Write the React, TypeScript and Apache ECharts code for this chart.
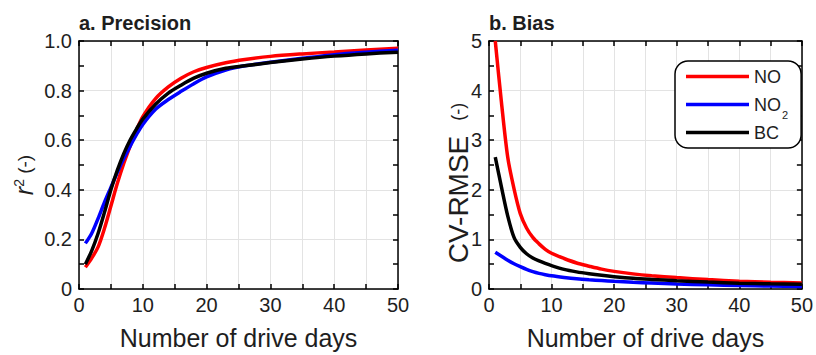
import React, { useEffect, useRef } from "react";
import * as echarts from "echarts";

// Number of drive days (shared by both panels)
const days = [1, 2, 3, 4, 5, 6, 7, 8, 9, 10, 12, 14, 16, 18, 20, 23, 26, 30, 35, 40, 45, 50];

// Panel a: precision (r²)
const r2NO = [0.088, 0.125, 0.17, 0.245, 0.335, 0.425, 0.505, 0.575, 0.64, 0.695, 0.768, 0.815, 0.85, 0.876, 0.893, 0.912, 0.925, 0.938, 0.948, 0.956, 0.964, 0.971];
const r2NO2 = [0.184, 0.225, 0.285, 0.35, 0.41, 0.47, 0.525, 0.575, 0.622, 0.664, 0.725, 0.764, 0.797, 0.828, 0.855, 0.883, 0.9, 0.914, 0.93, 0.945, 0.955, 0.963];
const r2BC = [0.1, 0.155, 0.225, 0.31, 0.4, 0.478, 0.545, 0.6, 0.645, 0.685, 0.745, 0.79, 0.822, 0.85, 0.87, 0.89, 0.9, 0.913, 0.927, 0.939, 0.948, 0.955];

// Panel b: bias (CV-RMSE)
const cvNO = [5.0, 3.75, 2.65, 2.02, 1.52, 1.23, 1.04, 0.91, 0.8, 0.72, 0.615, 0.525, 0.46, 0.4, 0.355, 0.305, 0.268, 0.23, 0.19, 0.157, 0.136, 0.12];
const cvNO2 = [0.74, 0.66, 0.58, 0.51, 0.45, 0.395, 0.35, 0.315, 0.288, 0.265, 0.233, 0.206, 0.186, 0.17, 0.155, 0.136, 0.12, 0.1, 0.085, 0.07, 0.06, 0.05];
const cvBC = [2.66, 2.05, 1.47, 1.04, 0.84, 0.71, 0.625, 0.565, 0.515, 0.47, 0.395, 0.345, 0.307, 0.275, 0.248, 0.215, 0.193, 0.168, 0.14, 0.118, 0.105, 0.097];

const seriesNames = ["NO", "NO2", "BC"];
const seriesColors = ["#ff0000", "#0000ff", "#000000"];
const panelTitles = ["a. Precision", "b. Bias"];
const xName = "Number of drive days";

const FONT = "'Liberation Sans', Arial, Helvetica, sans-serif";
const TEXT = "#1e1e1e";
const GRID_C = "#e3e3e3";

const zip = (xs: number[], ys: number[]) => xs.map((x, i) => [x, ys[i]]);

const tickStyle = { color: "#000", width: 1.5 };

function xAxes(gridIndex: number) {
  const common = {
    gridIndex,
    type: "value" as const,
    min: 0,
    max: 50,
    interval: 10,
    axisLine: { show: true, onZero: false, lineStyle: { color: "#000", width: 1.5 } },
    axisTick: { show: true, inside: true, length: 5, lineStyle: tickStyle },
    minorTick: { show: true, splitNumber: 2, length: 5, lineStyle: tickStyle },
  };
  return [
    {
      ...common,
      position: "bottom",
      splitLine: { show: true, lineStyle: { color: GRID_C, width: 1 } },
      minorSplitLine: { show: true, lineStyle: { color: GRID_C, width: 1 } },
      axisLabel: { show: true, fontSize: 20, color: TEXT, margin: 6, fontFamily: FONT },
      name: xName,
      nameLocation: "middle",
      nameGap: 36,
      nameTextStyle: { fontSize: 25, color: TEXT, fontFamily: FONT },
    },
    {
      ...common,
      position: "top",
      splitLine: { show: false },
      minorSplitLine: { show: false },
      axisLabel: { show: false },
    },
  ];
}

function yAxes(gridIndex: number, max: number, interval: number, fmt: (v: number) => string) {
  const common = {
    gridIndex,
    type: "value" as const,
    min: 0,
    max,
    interval,
    axisLine: { show: true, onZero: false, lineStyle: { color: "#000", width: 1.5 } },
    axisTick: { show: true, inside: true, length: 5, lineStyle: tickStyle },
    minorTick: { show: true, splitNumber: 2, length: 5, lineStyle: tickStyle },
  };
  return [
    {
      ...common,
      position: "left",
      splitLine: { show: true, lineStyle: { color: GRID_C, width: 1 } },
      minorSplitLine: { show: false },
      axisLabel: { show: true, fontSize: 20, color: TEXT, margin: 7, fontFamily: FONT, formatter: fmt },
    },
    {
      ...common,
      position: "right",
      splitLine: { show: false },
      minorSplitLine: { show: false },
      axisLabel: { show: false },
    },
  ];
}

function lineSeries(name: string, color: string, data: number[][], axisIdx: number) {
  return {
    type: "line",
    name,
    data,
    xAxisIndex: axisIdx,
    yAxisIndex: axisIdx,
    showSymbol: false,
    symbol: "none",
    smooth: 0.3,
    lineStyle: { color, width: 3.5 },
    itemStyle: { color },
    clip: true,
  };
}

export default function App() {
  const ref = useRef<HTMLDivElement>(null);
  useEffect(() => {
    if (!ref.current) return;
    const chart = echarts.init(ref.current, null, { renderer: "svg" });
    const leftData = [r2NO, r2NO2, r2BC];
    const rightData = [cvNO, cvNO2, cvBC];
    const option: any = {
      animation: false,
      textStyle: { fontFamily: FONT },
      title: [
        { text: panelTitles[0], left: 79, top: 13, padding: 0, textStyle: { fontSize: 20, fontWeight: "bold", color: TEXT, fontFamily: FONT } },
        { text: panelTitles[1], left: 489, top: 13, padding: 0, textStyle: { fontSize: 20, fontWeight: "bold", color: TEXT, fontFamily: FONT } },
      ],
      grid: [
        { left: 79, top: 41, width: 319, height: 257 },
        { left: 489, top: 41, width: 319, height: 257 },
      ],
      xAxis: [...xAxes(0), ...xAxes(1)],
      yAxis: [
        ...yAxes(0, 1, 0.2, (v: number) => (v === 0 ? "0" : v.toFixed(1))),
        ...yAxes(1, 5, 1, (v: number) => String(v)),
      ],
      legend: {
        data: seriesNames,
        orient: "vertical",
        left: 675,
        top: 61,
        padding: [0, 13, 0, 11],
        itemWidth: 63,
        itemHeight: 3.5,
        itemGap: -3,
        icon: "rect",
        borderColor: "#000",
        borderWidth: 1.5,
        borderRadius: 13,
        backgroundColor: "#fff",
        selectedMode: false,
        textStyle: {
          fontSize: 18,
          color: TEXT,
          fontFamily: FONT,
          lineHeight: 31,
          rich: {
            sub: { fontSize: 11, lineHeight: 11, padding: [20, 0, 0, 1], verticalAlign: "bottom", color: TEXT, fontFamily: FONT },
          },
        },
        formatter: (n: string) => (n === "NO2" ? "NO{sub|2}" : n),
      },
      graphic: [
        {
          type: "text",
          x: 24,
          y: 175,
          rotation: Math.PI / 2,
          style: {
            text: "{r|r}{s|2}{p| (-)}",
            align: "center",
            verticalAlign: "middle",
            fill: TEXT,
            rich: {
              r: { fontSize: 25, fontStyle: "italic", fontFamily: FONT, fill: TEXT, lineHeight: 25 },
              s: { fontSize: 14, fontFamily: FONT, fill: TEXT, lineHeight: 14, verticalAlign: "top" },
              p: { fontSize: 19, fontFamily: FONT, fill: TEXT, lineHeight: 25 },
            },
          },
        },
        {
          type: "text",
          x: 458,
          y: 183,
          rotation: Math.PI / 2,
          style: {
            text: "{a|CV-RMSE}{b|   (-)}",
            align: "center",
            verticalAlign: "middle",
            fill: TEXT,
            rich: {
              a: { fontSize: 28, fontFamily: FONT, fill: TEXT },
              b: { fontSize: 18, fontFamily: FONT, fill: TEXT },
            },
          },
        },
      ],
      series: [
        ...seriesNames.map((n, i) => lineSeries(n, seriesColors[i], zip(days, leftData[i]), 0)),
        ...seriesNames.map((n, i) => lineSeries(n, seriesColors[i], zip(days, rightData[i]), 2)),
      ],
    };
    chart.setOption(option);
    return () => chart.dispose();
  }, []);
  return <div ref={ref} style={{ position: "absolute", left: 0, top: 0, width: 816, height: 355 }} />;
}
